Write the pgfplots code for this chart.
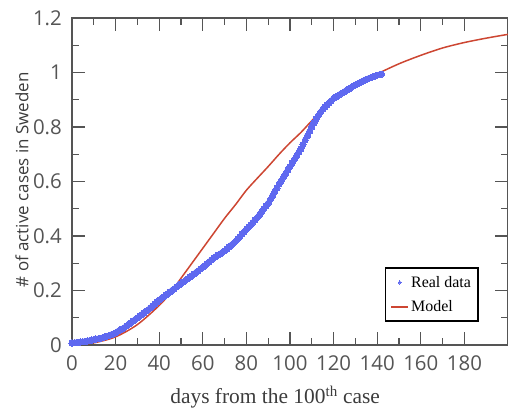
\documentclass[border=0pt]{standalone}
\usepackage{pgfplots}
\pgfplotsset{compat=1.18}
\usepackage{fontspec}
\setmainfont{Liberation Serif}
\newfontfamily\osans{Open Sans}
\definecolor{axgray}{RGB}{85,85,85}
\definecolor{labgray}{RGB}{60,60,60}
\definecolor{realblue}{RGB}{95,105,240}
\definecolor{modelred}{RGB}{205,70,50}
\begin{document}
\begin{tikzpicture}
\begin{axis}[name=ax,
  width=436bp, height=327bp, scale only axis,
  xmin=0, xmax=200, ymin=0, ymax=1.2,
  xtick={0,20,40,60,80,100,120,140,160,180},
  ytick={0,0.2,0.4,0.6,0.8,1,1.2},
  minor x tick num=1, minor y tick num=1,
  tick align=inside, major tick length=13bp, minor tick length=7bp,
  axis line style={axgray, line width=1.3bp},
  every tick/.style={axgray, line width=1.1bp},
  /pgf/number format/assume math mode=true,
  tick label style={font=\osans\fontsize{20.5}{20.5}\selectfont, text=axgray},
  xticklabel style={inner sep=0pt, yshift=-10bp},
  yticklabel style={inner sep=0pt, xshift=-10bp},
  xlabel={days from the 100\textsuperscript{th} case},
  xlabel style={font=\fontsize{21.5}{21.5}\selectfont, text=labgray, at={(axis description cs:0.466,-0.16)}, anchor=center},
  ylabel={\# of active cases in Sweden},
  ylabel style={font=\osans\fontsize{17}{17}\selectfont, text=labgray, at={(axis description cs:-0.115,0.505)}, anchor=center},
  legend style={at={(axis description cs:0.933,0.070)}, anchor=south east,
    line width=1.7bp, font=\fontsize{16}{16}\selectfont,
    inner xsep=5bp, inner ysep=6bp, row sep=8bp},
  legend cell align=left,
]
\addplot[color=realblue, only marks, mark=*, mark size=3.1bp, mark options={solid, draw=realblue, fill=realblue, line width=0pt}, forget plot] coordinates {
(0,.007)(1,.008)(2,.009)(3,.010)(4,.011)(5,.012)(6,.013)(7,.015)(8,.016)(9,.018)
(10,.020)(11,.022)(12,.023)(13,.025)(14,.027)(15,.030)(16,.032)(17,.035)(18,.038)(19,.041)
(20,.045)(21,.050)(22,.054)(23,.059)(24,.064)(25,.070)(26,.076)(27,.082)(28,.088)(29,.094)
(30,.100)(31,.106)(32,.112)(33,.118)(34,.124)(35,.130)(36,.137)(37,.144)(38,.151)(39,.158)
(40,.165)(41,.171)(42,.177)(43,.183)(44,.189)(45,.195)(46,.201)(47,.207)(48,.213)(49,.219)
(50,.225)(51,.231)(52,.237)(53,.243)(54,.249)(55,.255)(56,.261)(57,.267)(58,.273)(59,.279)
(60,.285)(61,.292)(62,.299)(63,.306)(64,.313)(65,.320)(66,.325)(67,.330)(68,.335)(69,.340)
(70,.345)(71,.352)(72,.359)(73,.366)(74,.373)(75,.380)(76,.389)(77,.398)(78,.407)(79,.416)
(80,.425)(81,.433)(82,.441)(83,.450)(84,.459)(85,.468)(86,.478)(87,.489)(88,.500)(89,.510)
(90,.520)(91,.534)(92,.548)(93,.562)(94,.576)(95,.590)(96,.603)(97,.616)(98,.629)(99,.642)
(100,.655)(101,.668)(102,.681)(103,.694)(104,.707)(105,.720)(106,.736)(107,.752)(108,.768)(109,.784)
(110,.800)(111,.815)(112,.830)(113,.842)(114,.854)(115,.865)(116,.873)(117,.881)(118,.889)(119,.897)
(120,.905)(121,.910)(122,.915)(123,.920)(124,.925)(125,.930)(126,.935)(127,.940)(128,.945)(129,.950)
(130,.955)(131,.959)(132,.963)(133,.967)(134,.971)(135,.975)(136,.978)(137,.981)(138,.984)(139,.987)
(140,.990)(141,.992)(142,.994)
};
\addplot[modelred, line width=1.5bp, smooth, forget plot] coordinates {
(0,0)(10,.008)(20,.03)(30,.075)(40,.145)(45,.19)(50,.245)(55,.30)(60,.355)(65,.41)
(70,.465)(75,.515)(80,.568)(85,.612)(90,.655)(95,.70)(100,.742)(105,.78)(110,.823)
(115,.862)(120,.895)(125,.925)(130,.952)(135,.975)(140,.995)(150,1.032)(160,1.063)
(170,1.09)(180,1.11)(190,1.126)(200,1.14)
};
\addlegendimage{only marks, mark=*, mark size=1.6bp, color=realblue, mark options={draw=realblue, fill=realblue, line width=0pt}}
\addlegendentry{Real data}
\addlegendimage{color=modelred, line width=1.8bp}
\addlegendentry{Model}
\end{axis}
\pgfresetboundingbox
\path[use as bounding box] ([xshift=-72bp,yshift=-66bp]ax.south west) rectangle ([yshift=18bp]ax.north east);
\end{tikzpicture}
\end{document}
